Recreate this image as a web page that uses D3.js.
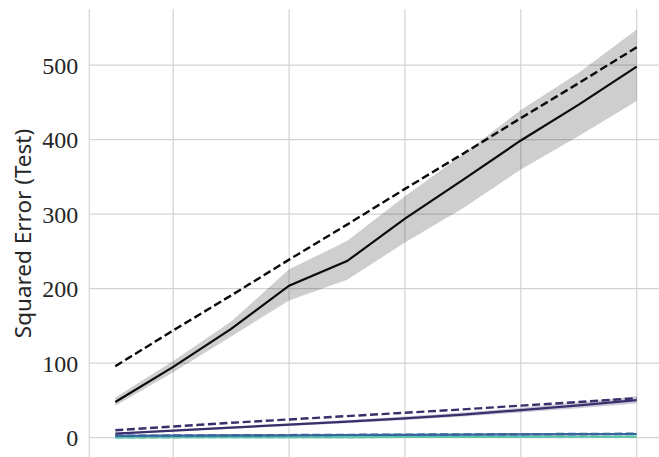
<!DOCTYPE html>
<html>
<head>
<meta charset="utf-8">
<script src="https://cdn.jsdelivr.net/npm/d3@7/dist/d3.min.js"></script>
<style>
  html, body { margin: 0; padding: 0; background: #fff; }
  svg { display: block; }
</style>
</head>
<body>
<svg id="chart" width="659" height="457"></svg>
<script>
// Sample counts on the x axis
const steps = [1, 2, 3, 4, 5, 6, 7, 8, 9, 10];
const xTicks = [2, 4, 6, 8, 10];
const yTicks = [0, 100, 200, 300, 400, 500];

// Largest model: empirical mean, spread and theoretical curve
const bigMean  = [48, 95, 146, 204, 237, 294, 346, 399, 447, 498];
const bigLow   = [43, 88, 136, 184, 212, 262, 308, 360, 405, 452];
const bigHigh  = [54, 103, 156, 226, 264, 324, 380, 440, 490, 548];
const bigTheory = [96, 144, 191, 239, 286, 334, 381, 429, 476, 524];

// Medium model
const midMean  = [5.5, 9.5, 13.5, 17.5, 21.5, 26, 31, 37, 43.5, 50.5];
const midLow   = [4.5, 8.3, 12, 15.8, 19.5, 23.7, 28.3, 33.8, 39.5, 46];
const midHigh  = [6.5, 10.7, 15, 19.2, 23.5, 28.3, 33.7, 40.2, 47.5, 55.5];
const midTheory = [10, 15, 20, 24.5, 29, 33.5, 38, 43, 48, 53];

// Small models
const smallMean  = [2.5, 2.8, 3.1, 3.3, 3.6, 3.9, 4.2, 4.4, 4.7, 5];
const smallTheory = [2.6, 2.9, 3.2, 3.5, 3.8, 4.1, 4.4, 4.7, 5, 5.3];
const tinyMean   = [0.5, 0.6, 0.7, 0.8, 0.9, 1.0, 1.1, 1.2, 1.3, 1.4];
const tinyTheory = [0.6, 0.7, 0.8, 0.9, 1.0, 1.1, 1.2, 1.3, 1.4, 1.5];

const colors = { big: "#0b0b0b", mid: "#392f6b", small: "#37659c", tiny: "#5ec3ac" };

const svg = d3.select("#chart");
const plotLeft = 89.3, plotTop = 9, plotRight = 659, plotBottom = 457;

const x = d3.scaleLinear().domain([1, 10]).range([115.3, 636.7]);
const y = d3.scaleLinear().domain([0, 500]).range([437.7, 65.2]);

const gridColor = "#d4d4d4";

// Horizontal grid
svg.append("g")
  .selectAll("line")
  .data(yTicks)
  .join("line")
  .attr("x1", plotLeft).attr("x2", plotRight)
  .attr("y1", d => y(d)).attr("y2", d => y(d))
  .attr("stroke", gridColor).attr("stroke-width", 1.2);

// Vertical grid
svg.append("g")
  .selectAll("line")
  .data(xTicks)
  .join("line")
  .attr("x1", d => x(d)).attr("x2", d => x(d))
  .attr("y1", plotTop).attr("y2", plotBottom)
  .attr("stroke", gridColor).attr("stroke-width", 1.2);

// Left spine
svg.append("line")
  .attr("x1", plotLeft).attr("x2", plotLeft)
  .attr("y1", plotTop).attr("y2", plotBottom)
  .attr("stroke", gridColor).attr("stroke-width", 1.2);

// Y tick labels
svg.append("g")
  .selectAll("text")
  .data(yTicks)
  .join("text")
  .attr("x", plotLeft - 11)
  .attr("y", d => y(d))
  .attr("dy", "0.35em")
  .attr("text-anchor", "end")
  .attr("font-family", "'Liberation Serif', serif")
  .attr("font-size", 24)
  .attr("fill", "#262626")
  .text(d => d);

// Y axis title
svg.append("text")
  .attr("transform", "translate(31,233.5) rotate(-90)")
  .attr("text-anchor", "middle")
  .attr("font-family", "'Noto Sans', sans-serif")
  .attr("font-size", 22.5)
  .attr("fill", "#262626")
  .text("Squared Error (Test)");

const area = (lo, hi) => d3.area()
  .x((d, i) => x(steps[i]))
  .y0((d, i) => y(lo[i]))
  .y1((d, i) => y(hi[i]))(steps);

const line = vals => d3.line()
  .x((d, i) => x(steps[i]))
  .y((d, i) => y(vals[i]))(steps);

// Spread bands
svg.append("path").attr("d", area(bigLow, bigHigh))
  .attr("fill", colors.big).attr("fill-opacity", 0.2);
svg.append("path").attr("d", area(midLow, midHigh))
  .attr("fill", colors.mid).attr("fill-opacity", 0.25);

const series = [
  { v: tinyMean, c: colors.tiny, dash: null },
  { v: tinyTheory, c: colors.tiny, dash: "8,3.6" },
  { v: smallMean, c: colors.small, dash: null },
  { v: smallTheory, c: colors.small, dash: "8,3.6" },
  { v: midMean, c: colors.mid, dash: null },
  { v: midTheory, c: colors.mid, dash: "8,3.6" },
  { v: bigMean, c: colors.big, dash: null },
  { v: bigTheory, c: colors.big, dash: "8,3.6" }
];

svg.append("g")
  .selectAll("path")
  .data(series)
  .join("path")
  .attr("d", d => line(d.v))
  .attr("fill", "none")
  .attr("stroke", d => d.c)
  .attr("stroke-width", d => d.dash ? 2.4 : 2.2)
  .attr("stroke-dasharray", d => d.dash);
</script>
</body>
</html>
